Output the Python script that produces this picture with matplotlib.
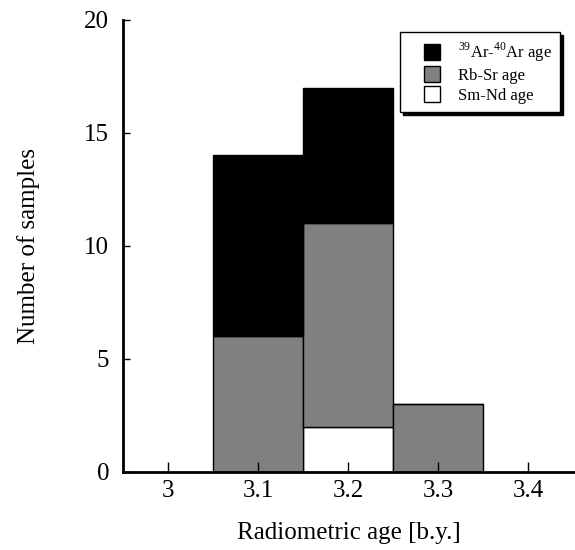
import matplotlib
matplotlib.use('Agg')
import matplotlib.pyplot as plt
from matplotlib.lines import Line2D

plt.rcParams['font.family'] = 'Liberation Serif'
plt.rcParams['mathtext.fontset'] = 'custom'
plt.rcParams['mathtext.rm'] = 'Liberation Serif'

# bin centres [b.y.] and counts per method
age_bins = [3.1, 3.2, 3.3]
sm_nd = [0, 2, 0]
rb_sr = [6, 9, 3]
ar_ar = [8, 6, 0]

x_ticks = [3.0, 3.1, 3.2, 3.3, 3.4]
y_ticks = [0, 5, 10, 15, 20]

fig = plt.figure(figsize=(5.75, 5.5), dpi=100)
ax = fig.add_axes([0.214, 0.142, 0.786, 0.822])

bot2 = [a + b for a, b in zip(sm_nd, rb_sr)]
ax.bar(age_bins, sm_nd, width=0.1, color='white', edgecolor='black', linewidth=1)
ax.bar(age_bins, rb_sr, width=0.1, bottom=sm_nd, color='#808080', edgecolor='black', linewidth=1)
ax.bar(age_bins, ar_ar, width=0.1, bottom=bot2, color='black', edgecolor='black', linewidth=1)

ax.set_xlim(2.95, 3.452)
ax.set_ylim(0, 20)
ax.set_xticks(x_ticks, [f'{v:g}' for v in x_ticks])
ax.set_yticks(y_ticks)
ax.tick_params(direction='in', labelsize=18, width=1)
ax.tick_params(axis='x', length=7, pad=6)
ax.tick_params(axis='y', length=5, pad=10)
for s in ['top', 'right']:
    ax.spines[s].set_visible(False)
for s in ['left', 'bottom']:
    ax.spines[s].set_linewidth(2)

ax.set_xlabel('Radiometric age [b.y.]', fontsize=18, labelpad=14)
ax.set_ylabel('Number of samples', fontsize=18, labelpad=32)

colors = ['black', '#808080', 'white']
labels = [r'$^{39}$Ar-$^{40}$Ar age', 'Rb-Sr age', 'Sm-Nd age']
handles = [Line2D([], [], linestyle='none', marker='s', markersize=12.2,
                  markerfacecolor=c, markeredgecolor='black', markeredgewidth=1)
           for c in colors]
leg = ax.legend(handles, labels, loc='upper right', bbox_to_anchor=(0.967, 0.973),
                borderaxespad=0, fontsize=12, fancybox=False, edgecolor='black',
                framealpha=1, shadow={'color': 'black', 'alpha': 1},
                handlelength=2.82, handletextpad=0.16, labelspacing=0.25,
                borderpad=0.5)
leg.get_frame().set_linewidth(1)

fig.savefig('out.png', dpi=100)
